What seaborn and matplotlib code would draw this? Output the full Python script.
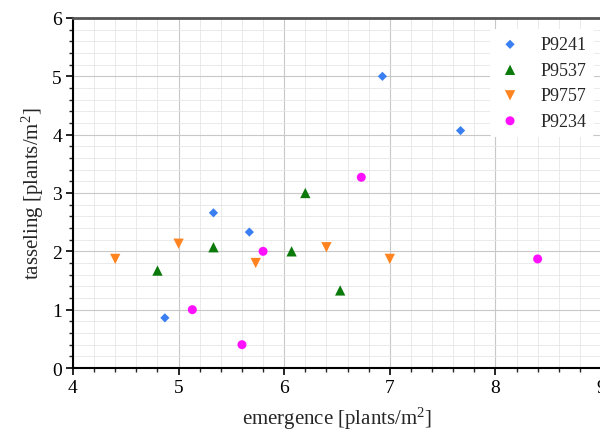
import matplotlib
matplotlib.use("Agg")
import matplotlib.pyplot as plt
import seaborn as sns
import pandas as pd
from matplotlib.ticker import MultipleLocator

# Data
p9241_x = [4.87, 5.33, 5.67, 6.93, 7.67]
p9241_y = [0.86, 2.66, 2.33, 5.00, 4.07]
p9537_x = [4.80, 5.33, 6.07, 6.20, 6.53]
p9537_y = [1.67, 2.07, 2.00, 3.00, 1.33]
p9757_x = [4.40, 5.00, 5.73, 6.40, 7.00]
p9757_y = [1.87, 2.13, 1.80, 2.07, 1.87]
p9234_x = [5.13, 5.60, 5.80, 6.73, 8.40]
p9234_y = [1.00, 0.40, 2.00, 3.27, 1.87]
series = ["P9241", "P9537", "P9757", "P9234"]

rows = []
for name, xs, ys in zip(series,
                        [p9241_x, p9537_x, p9757_x, p9234_x],
                        [p9241_y, p9537_y, p9757_y, p9234_y]):
    for x, y in zip(xs, ys):
        rows.append({"emergence": x, "tasseling": y, "hybrid": name})
df = pd.DataFrame(rows)

sns.set_style("white")
plt.rcParams["font.family"] = ["Liberation Serif", "DejaVu Serif"]
plt.rcParams["mathtext.fontset"] = "custom"
plt.rcParams["mathtext.rm"] = "Liberation Serif"
plt.rcParams["mathtext.it"] = "Liberation Serif:italic"
plt.rcParams["mathtext.bf"] = "Liberation Serif:bold"

palette = {"P9241": "#3a7ff2", "P9537": "#0b7a0b", "P9757": "#ff8420", "P9234": "#ff10ff"}
markers = {"P9241": "D", "P9537": "^", "P9757": "v", "P9234": "o"}
sizes = {"P9241": 22, "P9537": 55, "P9757": 55, "P9234": 42}

fig = plt.figure(figsize=(6.0, 4.35), dpi=100)
ax = fig.add_axes([73/600, 1-369/435, (601-73)/600, (369-19)/435])

for name in series:
    sub = df[df["hybrid"] == name]
    sns.scatterplot(data=sub, x="emergence", y="tasseling", ax=ax,
                    color=palette[name], marker=markers[name], s=sizes[name],
                    edgecolor="none", label=name, zorder=3)

ax.set_xlim(4, 9)
ax.set_ylim(0, 6)
ax.xaxis.set_major_locator(MultipleLocator(1))
ax.xaxis.set_minor_locator(MultipleLocator(0.2))
ax.yaxis.set_major_locator(MultipleLocator(1))
ax.yaxis.set_minor_locator(MultipleLocator(0.2))
ax.grid(which="major", color="#c8c8c8", lw=0.8, zorder=0)
ax.grid(which="minor", color="#e6e6e6", lw=0.6, zorder=0)
ax.set_axisbelow(True)

ax.tick_params(which="major", direction="out", length=5, width=1.2, labelsize=14,
               left=True, bottom=True, colors="black", pad=3)
ax.tick_params(which="minor", direction="out", length=3, width=1.0, left=True, bottom=True)

for s in ["left", "bottom"]:
    ax.spines[s].set_color("black")
    ax.spines[s].set_linewidth(1.5)
ax.spines["top"].set_color("#555555")
ax.spines["top"].set_linewidth(2.0)
ax.spines["right"].set_visible(False)

ax.set_xlabel(r"emergence [plants/m$^{2}$]", fontsize=15, labelpad=6)
ax.set_ylabel(r"tasseling [plants/m$^{2}$]", fontsize=15, labelpad=4)

leg = ax.legend(loc="upper left", bbox_to_anchor=((490-73)/528, 0.969), frameon=True,
                fontsize=13, handletextpad=0.96, labelspacing=0.47,
                borderpad=0.4, markerscale=1.0, handlelength=1.42, borderaxespad=0)
leg.get_frame().set_edgecolor("none")
leg.get_frame().set_facecolor("white")
leg.get_frame().set_alpha(1.0)

fig.savefig("out.png", dpi=100)
